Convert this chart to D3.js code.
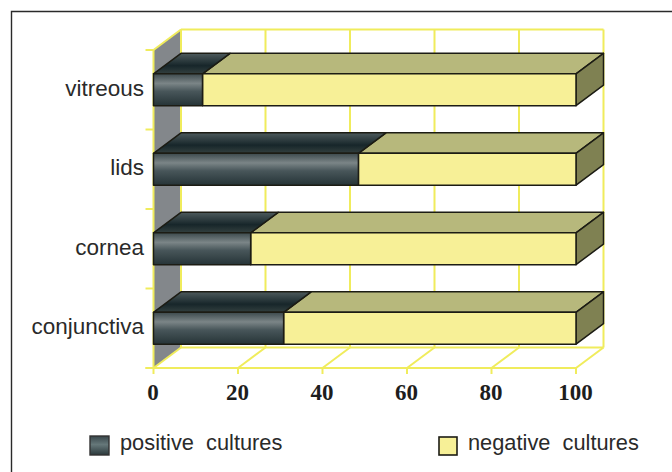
<!DOCTYPE html>
<html><head><meta charset="utf-8">
<script src="https://cdn.jsdelivr.net/npm/d3@7"></script>
<style>html,body{margin:0;padding:0;background:#fff}svg{display:block}</style>
</head><body><svg id="c" width="672" height="472"></svg>
<script>
const categories = ["conjunctiva","cornea","lids","vitreous"];
const positive = [30.8,23,48.5,11.6];
const negative = [69.2,77,51.5,88.4];
const xTicks = [0,20,40,60,80,100];
const legendLabels = ["positive  cultures","negative  cultures"];

const svg = d3.select("#c");
const defs = svg.append("defs");
function grad(id,stops){
  const g = defs.append("linearGradient").attr("id",id).attr("x1",0).attr("y1",0).attr("x2",0).attr("y2",1);
  stops.forEach(s=>g.append("stop").attr("offset",s[0]).attr("stop-color",s[1]));
}
grad("front",[[0,"#3d4a4d"],[0.3,"#7b8587"],[0.55,"#48565a"],[1,"#263437"]]);
grad("top",[[0,"#4d5a5c"],[0.6,"#17262a"],[1,"#33403f"]]);
grad("leg",[[0,"#38464a"],[0.45,"#66787a"],[1,"#2a383b"]]);

const x = d3.scaleLinear().domain([0,100]).range([153.5,576]);
const y = d3.scaleBand().domain(categories.slice().reverse()).range([50,368]).paddingInner(0.6).paddingOuter(0.3);
const dx=27.5, dy=-20.5;
const yellow="#f0ec5c", ink="#1c1c14";
const top0=50, bot0=368;
const p=(a)=>a.map(d=>d.join(",")).join(" ");

// frame
svg.append("path").attr("d","M11.5,472V11.5H672").attr("fill","none").attr("stroke","#2a2a2a").attr("stroke-width",1.4);

// side wall
svg.append("polygon").attr("fill","#83878b")
  .attr("points",p([[x(0),top0],[x(0)+dx,top0+dy],[x(0)+dx,bot0+dy],[x(0),bot0]]));

// floor + back-wall grid
const grid=svg.append("g").attr("stroke",yellow).attr("stroke-width",2).attr("fill","none");
xTicks.forEach(t=>{
  grid.append("line").attr("x1",x(t)+dx).attr("x2",x(t)+dx).attr("y1",top0+dy).attr("y2",bot0+dy);
  grid.append("line").attr("x1",x(t)).attr("x2",x(t)+dx).attr("y1",bot0).attr("y2",bot0+dy);
  grid.append("line").attr("x1",x(t)).attr("x2",x(t)).attr("y1",bot0).attr("y2",bot0+6);
});
grid.append("line").attr("x1",x(0)+dx).attr("x2",x(100)+dx).attr("y1",top0+dy).attr("y2",top0+dy);
grid.append("line").attr("x1",x(0)+dx).attr("x2",x(100)+dx).attr("y1",bot0+dy).attr("y2",bot0+dy);
grid.append("line").attr("x1",x(0)-8).attr("x2",x(100)).attr("y1",bot0).attr("y2",bot0);
grid.append("line").attr("x1",x(0)).attr("x2",x(0)).attr("y1",top0).attr("y2",bot0);
grid.append("line").attr("x1",x(0)).attr("x2",x(0)+dx).attr("y1",top0).attr("y2",top0+dy);
const step=(bot0-top0)/categories.length;
d3.range(categories.length+1).forEach(i=>{
  grid.append("line").attr("x1",x(0)-8).attr("x2",x(0)).attr("y1",top0+i*step).attr("y2",top0+i*step);
});

// bars
const bars=svg.append("g").attr("stroke",ink).attr("stroke-width",1.5).attr("stroke-linejoin","round");
categories.slice().reverse().forEach(c=>{
  const i=categories.indexOf(c), yt=y(c), yb=y(c)+y.bandwidth();
  const a=x(0), m=x(positive[i]), e=x(positive[i]+negative[i]);
  bars.append("polygon").attr("fill","#b7b87c").attr("points",p([[m,yt],[m+dx,yt+dy],[e+dx,yt+dy],[e,yt]]));
  bars.append("polygon").attr("fill","url(#top)").attr("points",p([[a,yt],[a+dx,yt+dy],[m+dx,yt+dy],[m,yt]]));
  bars.append("polygon").attr("fill","#7f8152").attr("points",p([[e,yt],[e+dx,yt+dy],[e+dx,yb+dy],[e,yb]]));
  bars.append("rect").attr("x",m).attr("y",yt).attr("width",e-m).attr("height",yb-yt).attr("fill","#f7f097");
  bars.append("rect").attr("x",a).attr("y",yt).attr("width",m-a).attr("height",yb-yt).attr("fill","url(#front)");
});

// x axis labels
svg.append("g").attr("font-family","'Liberation Serif'").attr("font-weight","bold").attr("font-size",23).attr("fill","#1d1d1d")
  .attr("text-anchor","middle").selectAll("text").data(xTicks).join("text")
  .attr("x",d=>x(d)-0.5).attr("y",400).text(d=>d);

// category labels
svg.append("g").attr("font-family","'Liberation Sans'").attr("font-size",22.5).attr("fill","#2a2a2a")
  .attr("text-anchor","end").selectAll("text").data(categories).join("text")
  .attr("x",144).attr("y",d=>y(d)+y.bandwidth()/2+6).text(d=>d);

// legend
const lg=svg.append("g").attr("font-family","'Liberation Sans'").attr("font-size",21.8).attr("fill","#2a2a2a");
lg.append("rect").attr("x",90).attr("y",436).attr("width",19).attr("height",19).attr("fill","url(#leg)").attr("stroke","#333").attr("stroke-width",1.4);
lg.append("text").attr("x",120).attr("y",450).style("white-space","pre").text(legendLabels[0]);
lg.append("rect").attr("x",439).attr("y",437).attr("width",18).attr("height",18).attr("fill","#f7f097").attr("stroke",ink).attr("stroke-width",1.6);
lg.append("text").attr("x",468).attr("y",450).style("white-space","pre").text(legendLabels[1]);
</script></body></html>
